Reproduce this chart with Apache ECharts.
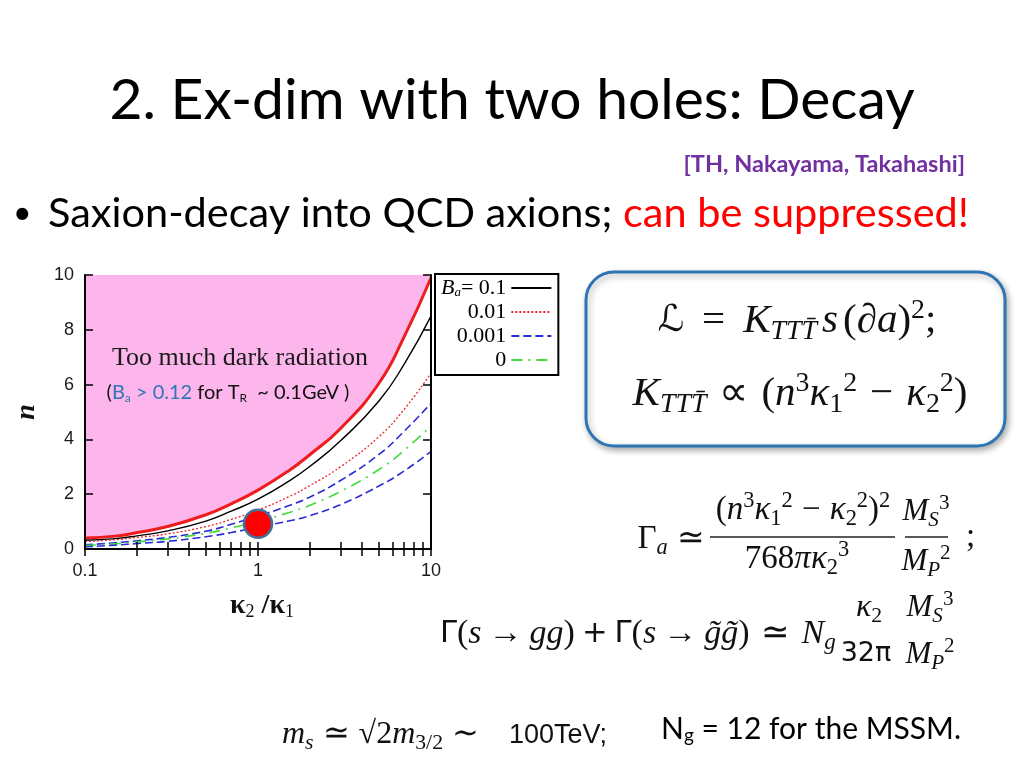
<!DOCTYPE html>
<html>
<head>
<meta charset="utf-8">
<script src="https://cdn.jsdelivr.net/npm/echarts@6/dist/echarts.min.js"></script>
<style>
html,body{margin:0;padding:0;background:#fff;}
#c{width:1024px;height:768px;}
</style>
</head>
<body>
<div id="c"></div>
<script>
// ---- data ----
const kappaRatio = [0.1, 0.15, 0.2, 0.3, 0.5, 0.7, 1, 1.5, 2, 3, 5, 7, 10];
const boundaryN  = [0.40, 0.47, 0.60, 0.82, 1.25, 1.65, 2.15, 2.85, 3.45, 4.4, 6.05, 7.75, 9.9];
const nBa01      = [0.32, 0.38, 0.48, 0.66, 1.02, 1.38, 1.82, 2.47, 3.02, 3.95, 5.4, 6.75, 8.5];
const nBa001     = [0.27, 0.34, 0.42, 0.55, 0.82, 1.08, 1.42, 1.9, 2.32, 3.0, 4.1, 5.1, 6.42];
const nBa0001    = [0.15, 0.23, 0.30, 0.42, 0.65, 0.90, 1.20, 1.58, 1.9, 2.5, 3.45, 4.3, 5.32];
const nBa0       = [0.13, 0.19, 0.26, 0.37, 0.57, 0.77, 1.02, 1.32, 1.6, 2.1, 2.9, 3.6, 4.5];
const nLowerDash = [0.08, 0.14, 0.20, 0.28, 0.45, 0.60, 0.80, 1.02, 1.22, 1.62, 2.3, 2.85, 3.56];
const markerPoint = [[1, 0.92]];
const xTickLabels = [0.1, 1, 10];
const xMinorTicks = [0.1,0.2,0.3,0.4,0.5,0.6,0.7,0.8,0.9,1,2,3,4,5,6,7,8,9,10];
const legendNames = ['Ba= 0.1', '0.01', '0.001', '0'];

const pair = arr => kappaRatio.map((x, i) => [x, arr[i]]);

const SERIF = 'Liberation Serif';
function mathRich(size, color, gapA, gapB) {
  color = color || '#111';
  const base = {fontFamily: SERIF, fill: color};
  return {
    n:   Object.assign({}, base, {fontSize: size, lineHeight: size * 1.2}),
    i:   Object.assign({}, base, {fontSize: size, fontStyle: 'italic', lineHeight: size * 1.2}),
    s:   Object.assign({}, base, {fontFamily: 'DejaVu Sans', fontSize: size * 0.9, lineHeight: size * 1.2}),
    sub: Object.assign({}, base, {fontSize: size * 0.68, fontStyle: 'italic', verticalAlign: 'bottom', lineHeight: size * 0.68}),
    subn:Object.assign({}, base, {fontSize: size * 0.68, verticalAlign: 'bottom', lineHeight: size * 0.68}),
    sup: Object.assign({}, base, {fontSize: size * 0.68, verticalAlign: 'top', lineHeight: size * 0.68}),
    a:   Object.assign({}, base, {fontSize: size, lineHeight: size * 1.2, width: gapA || size * 0.14}),
    b:   Object.assign({}, base, {fontSize: size, lineHeight: size * 1.2, width: gapB || size * 0.28})
  };
}
function mtext(x, y, text, size, align, gapA, gapB) {
  return {type: 'text', x: x, y: y, z: 100,
    style: {text: text, rich: mathRich(size, '#111', gapA, gapB), fontFamily: SERIF, fontSize: size,
      textAlign: align || 'left', textVerticalAlign: 'middle', fill: '#111'}};
}

const chart = echarts.init(document.getElementById('c'), null, {renderer: 'canvas'});

const axisCommon = {
  type: 'log', logBase: 10, min: 0.1, max: 10, z: 6,
  axisLine: {show: true, lineStyle: {color: '#000', width: 2}},
  axisTick: {show: true, inside: true, length: 7, customValues: xMinorTicks, lineStyle: {color: '#000', width: 1.5}},
  splitLine: {show: false}, minorSplitLine: {show: false}
};
const yCommon = {
  type: 'value', min: 0, max: 10, interval: 2, z: 6,
  axisLine: {show: true, lineStyle: {color: '#000', width: 2}},
  axisTick: {show: true, inside: true, length: 8, lineStyle: {color: '#000', width: 1.5}},
  splitLine: {show: false}
};

const option = {
  backgroundColor: '#fff',
  animation: false,
  grid: {left: 85, top: 275, width: 346, height: 274},
  xAxis: [
    Object.assign({}, axisCommon, {position: 'bottom',
      axisLabel: {show: true, customValues: xTickLabels, fontFamily: 'Liberation Sans', fontSize: 18, color: '#1a1a1a', margin: 13}}),
    Object.assign({}, axisCommon, {position: 'top', axisLabel: {show: false}})
  ],
  yAxis: [
    Object.assign({}, yCommon, {position: 'left',
      axisLabel: {show: true, fontFamily: 'Liberation Sans', fontSize: 18, color: '#1a1a1a', margin: 11}}),
    Object.assign({}, yCommon, {position: 'right', axisLabel: {show: false}})
  ],
  legend: {
    data: legendNames,
    orient: 'vertical', left: 435, top: 274, align: 'right',
    itemWidth: 40, itemHeight: 14, itemGap: 2,
    padding: [3, 6, 4, 6],
    borderColor: '#000', borderWidth: 2, backgroundColor: '#fff',
    selectedMode: false,
    itemStyle: {opacity: 0},
    formatter: function (name) {
      return name === 'Ba= 0.1' ? '{b|B}{s|a}{t|= 0.1}' : '{t|' + name + '}';
    },
    textStyle: {
      width: 72, align: 'right', fontFamily: SERIF, fontSize: 22, color: '#000',
      rich: {
        b: {fontFamily: SERIF, fontSize: 22, fontStyle: 'italic', color: '#000'},
        s: {fontFamily: SERIF, fontSize: 13, fontStyle: 'italic', color: '#000', verticalAlign: 'bottom', lineHeight: 13},
        t: {fontFamily: SERIF, fontSize: 22, color: '#000'}
      }
    }
  },
  series: [
    {name: 'boundary', type: 'line', data: pair(boundaryN), smooth: 0.5, symbol: 'none',
      lineStyle: {color: '#ee1c1c', width: 3}, areaStyle: {origin: 'end', color: '#fdb6ec', opacity: 1}, z: 2},
    {name: 'Ba= 0.1', type: 'line', data: pair(nBa01), smooth: 0.5, symbol: 'none',
      lineStyle: {color: '#000', width: 1.4}, itemStyle: {color: '#000'}, z: 3},
    {name: '0.01', type: 'line', data: pair(nBa001), smooth: 0.5, symbol: 'none',
      lineStyle: {color: '#e8262e', width: 1.3, type: [2, 2]}, itemStyle: {color: '#e8262e'}, z: 3},
    {name: '0.001', type: 'line', data: pair(nBa0001), smooth: 0.5, symbol: 'none',
      lineStyle: {color: '#2b2bd6', width: 1.6, type: [8, 4]}, itemStyle: {color: '#2b2bd6'}, z: 3},
    {name: '0', type: 'line', data: pair(nBa0), smooth: 0.5, symbol: 'none',
      lineStyle: {color: '#3fdc3f', width: 1.6, type: [11, 6, 2, 6]}, itemStyle: {color: '#3fdc3f'}, z: 3},
    {name: 'lower', type: 'line', data: pair(nLowerDash), smooth: 0.5, symbol: 'none',
      lineStyle: {color: '#2b2bd6', width: 1.6, type: [8, 4]}, itemStyle: {color: '#2b2bd6'}, z: 3},
    {name: 'point', type: 'scatter', data: markerPoint, symbolSize: 28,
      itemStyle: {color: '#ff0000', borderColor: '#41719c', borderWidth: 2.5, opacity: 1}, z: 10}
  ],
  graphic: [
    // slide title and bullet
    {type: 'text', x: 512, y: 101, z: 100, style: {text: '2. Ex-dim with two holes: Decay', font: '57px Lato', fill: '#000', textAlign: 'center', textVerticalAlign: 'middle'}},
    {type: 'text', x: 965, y: 164, z: 100, style: {text: '[TH, Nakayama, Takahashi]', font: 'bold 23.5px Lato', fill: '#7030a0', textAlign: 'right', textVerticalAlign: 'middle'}},
    {type: 'text', x: 13, y: 214, z: 100, style: {text: '•', font: '32px Lato', fill: '#000', textAlign: 'left', textVerticalAlign: 'middle'}},
    {type: 'text', x: 48, y: 214, z: 100, style: {text: '{a|Saxion-decay into QCD axions; }{r|can be suppressed!}', textAlign: 'left', textVerticalAlign: 'middle',
      rich: {a: {fontFamily: 'Lato', fontSize: 41.5, fill: '#000'}, r: {fontFamily: 'Lato', fontSize: 41.5, fill: '#ff0000'}}}},
    // axis names
    {type: 'text', x: 27, y: 412, rotation: Math.PI / 2, z: 100, style: {text: 'n', font: 'italic bold 28px Liberation Serif', fill: '#111', textAlign: 'center', textVerticalAlign: 'middle'}},
    {type: 'text', x: 262, y: 606, z: 100, style: {text: '{k|κ}{s|2}{k| /κ}{s|1}', textAlign: 'center', textVerticalAlign: 'middle',
      rich: {k: {fontFamily: SERIF, fontWeight: 'bold', fontSize: 28, fill: '#111', lineHeight: 30},
             s: {fontFamily: SERIF, fontSize: 18, fill: '#111', verticalAlign: 'bottom', lineHeight: 17}}}},
    // in-plot annotations
    {type: 'text', x: 240, y: 358, z: 100, style: {text: 'Too much dark radiation', font: '26px Liberation Serif', fill: '#1a1a1a', textAlign: 'center', textVerticalAlign: 'middle'}},
    {type: 'text', x: 228, y: 393, z: 100, style: {text: '{k|(}{b|B}{bs|a}{b| > 0.12}{k| for T}{ks|R}{k|  ~ 0.1GeV )}', textAlign: 'center', textVerticalAlign: 'middle',
      rich: {k: {fontFamily: 'Lato', fontSize: 20, fill: '#111', lineHeight: 22},
             b: {fontFamily: 'Lato', fontSize: 20, fill: '#2e75b6', lineHeight: 22},
             bs: {fontFamily: 'Lato', fontSize: 12, fill: '#2e75b6', verticalAlign: 'bottom', lineHeight: 12},
             ks: {fontFamily: 'Lato', fontSize: 12, fill: '#111', verticalAlign: 'bottom', lineHeight: 12}}}},
    // rounded formula box
    {type: 'rect', z: 90, shape: {x: 586, y: 272, width: 419, height: 174, r: 28},
      style: {fill: '#fff', stroke: '#2e75b6', lineWidth: 3, shadowBlur: 6, shadowColor: 'rgba(0,0,0,0.3)', shadowOffsetX: 2, shadowOffsetY: 3}},
    mtext(797, 321, '{s|ℒ}{b| }{n|=}{b| }{i|K}{sub|TTT̄}{a| }{i|s}{a| }{n|(∂}{i|a}{n|)}{sup|2}{n|;}', 41, 'center', 5, 18),
    mtext(800, 394, '{i|K}{sub|TTT̄}{b| }{n|∝}{b| }{n|(}{i|n}{sup|3}{i|κ}{subn|1}{sup|2}{b| }{n|−}{b| }{i|κ}{subn|2}{sup|2}{n|)}', 41, 'center', 5, 13),
    // Gamma_a formula
    mtext(705, 539, '{n|Γ}{sub|a}{b| }{n|≃}', 33, 'right'),
    mtext(803, 510, '{n|(}{i|n}{sup|3}{i|κ}{subn|1}{sup|2}{b| }{n|−}{b| }{i|κ}{subn|2}{sup|2}{n|)}{sup|2}', 33, 'center'),
    {type: 'line', z: 100, shape: {x1: 710, y1: 537, x2: 895, y2: 537}, style: {stroke: '#222', lineWidth: 1.3}},
    mtext(797, 559, '{n|768}{i|πκ}{subn|2}{sup|3}', 33, 'center'),
    mtext(926, 512, '{i|M}{sub|S}{sup|3}', 31, 'center'),
    {type: 'line', z: 100, shape: {x1: 905, y1: 537, x2: 948, y2: 537}, style: {stroke: '#222', lineWidth: 1.3}},
    mtext(926, 562, '{i|M}{sub|P}{sup|2}', 31, 'center'),
    mtext(966, 537, '{n|;}', 33, 'left'),
    // Gamma(s->gg) formula
    mtext(440, 634, '{s|Γ}{n|(}{i|s}{a| }{n|→}{a| }{i|gg}{n|)}{a| }{s|+}{a| }{s|Γ}{n|(}{i|s}{a| }{n|→}{a| }{i|g̃g̃}{n|)}{b| }{n|≃}{b| }{i|N}{sub|g}', 34, 'left', 7, 12),
    mtext(869, 608, '{i|κ}{subn|2}', 32, 'center'),
    {type: 'text', x: 866, y: 654, z: 100, style: {text: '32π', font: '27px DejaVu Sans', fill: '#111', textAlign: 'center', textVerticalAlign: 'middle'}},
    mtext(930, 608, '{i|M}{sub|S}{sup|3}', 31, 'center'),
    mtext(930, 655, '{i|M}{sub|P}{sup|2}', 31, 'center'),
    // bottom line
    mtext(282, 735, '{i|m}{sub|s}{b| }{n|≃}{b| }{n|√2}{i|m}{subn|3/2}{b| }{n|∼}', 32, 'left', 4, 9),
    {type: 'text', x: 509, y: 736, z: 100, style: {text: '100TeV;', font: '27px Liberation Sans', fill: '#111', textAlign: 'left', textVerticalAlign: 'middle'}},
    {type: 'text', x: 661, y: 729, z: 100, style: {text: '{a|N}{b|g}{a| = 12 for the MSSM.}', textAlign: 'left', textVerticalAlign: 'middle',
      rich: {a: {fontFamily: 'Lato', fontSize: 30, fill: '#000', lineHeight: 32}, b: {fontFamily: 'Lato', fontSize: 19, fill: '#000', verticalAlign: 'bottom', lineHeight: 19}}}}
  ]
};
chart.setOption(option);
</script>
</body>
</html>
